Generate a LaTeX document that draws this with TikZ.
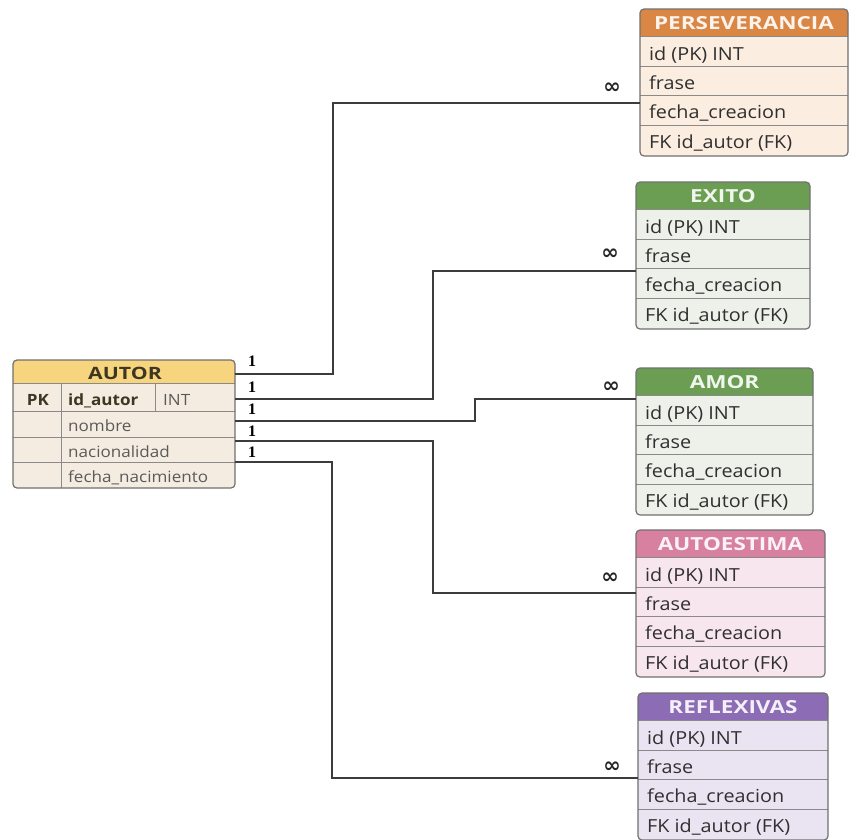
\documentclass[tikz,border=0pt]{standalone}
\usepackage{fontspec}
\usetikzlibrary{calc}
\setmainfont{Open Sans}[FakeStretch=1.1]
\newfontfamily\hdrfont{Open Sans}[FakeStretch=1.25]
\newfontfamily\cardfont{Liberation Serif}
\newfontfamily\symfont{DejaVu Sans}

% palette
\definecolor{bordergray}{HTML}{707070}
\definecolor{rowgray}{HTML}{8A8A8A}
\definecolor{rowink}{HTML}{303030}
\definecolor{softink}{HTML}{5A5A5A}
\definecolor{linkgray}{HTML}{3C3C3C}
\definecolor{autorhdr}{HTML}{F7D47E}
\definecolor{autorbody}{HTML}{F4ECE0}
\definecolor{autorink}{HTML}{3D3622}
\definecolor{orangehdr}{HTML}{DA8745}
\definecolor{orangebody}{HTML}{FBEDE0}
\definecolor{greenhdr}{HTML}{6B9E52}
\definecolor{greenbody}{HTML}{EEF0EA}
\definecolor{pinkhdr}{HTML}{D8809F}
\definecolor{pinkbody}{HTML}{F8E6EE}
\definecolor{purplehdr}{HTML}{8C6CB5}
\definecolor{purplebody}{HTML}{EAE3F2}

\tikzset{
  tblborder/.style={draw=bordergray, line width=1.2pt, rounded corners=4pt,
    inner sep=0pt, outer sep=0pt, anchor=north west},
  rowline/.style={draw=rowgray, line width=0.9pt},
  rowtext/.style={anchor=base west, inner sep=0pt, text=rowink,
    font=\fontsize{18}{20}\selectfont},
  hdrtext/.style={anchor=base, inner sep=0pt, font=\hdrfont\bfseries\fontsize{18}{20}\selectfont},
  autortext/.style={anchor=base west, inner sep=0pt, text=softink,
    font=\fontsize{15.5}{17}\selectfont},
  link/.style={draw=linkgray, line width=1.5pt},
  one/.style={inner sep=0pt, font=\cardfont\bfseries\fontsize{16}{17}\selectfont},
  many/.style={inner sep=0pt, text=black!85, font=\symfont\bfseries\fontsize{21}{22}\selectfont},
}

% entity table: name, left x, top y, width, header colour, body colour, title
\newcommand\ertable[7]{%
  \fill[#6, rounded corners=4pt] (#2,#3) rectangle ({#2+#4},{#3+147});
  \fill[#5, rounded corners=4pt] (#2,#3) rectangle ({#2+#4},{#3+27});
  \fill[#5] (#2,{#3+12}) rectangle ({#2+#4},{#3+27});
  \foreach \ry in {27,57,86.5,116}
    \draw[rowline] (#2,{#3+\ry}) -- ({#2+#4},{#3+\ry});
  \node[tblborder, minimum width=#4pt, minimum height=147pt] (#1) at (#2,#3) {};
  \node[hdrtext, text=white!90!#5] (#1-title) at ({#2+#4/2},{#3+20}) {#7};
  \node[rowtext] (#1-id) at ({#2+9},{#3+51}) {id (PK) INT};
  \node[rowtext] (#1-frase) at ({#2+9},{#3+80}) {frase};
  \node[rowtext] (#1-fecha) at ({#2+9},{#3+109.5}) {fecha\_creacion};
  \node[rowtext] (#1-fk) at ({#2+9},{#3+139}) {FK id\_autor (FK)};
}

\begin{document}
\begin{tikzpicture}[x=1pt, y=-1pt]
  \useasboundingbox (0,0) rectangle (851,839);

  % AUTOR
  \fill[autorbody, rounded corners=4pt] (13,360) rectangle (235,488);
  \fill[autorhdr, rounded corners=4pt] (13,360) rectangle (235,383);
  \fill[autorhdr] (13,372) rectangle (235,383);
  \foreach \ry in {383,411,437,462}
    \draw[rowline] (13,\ry) -- (235,\ry);
  \draw[rowline] (61,383) -- (61,488);
  \draw[rowline] (155,383) -- (155,411);
  \node[tblborder, minimum width=222pt, minimum height=128pt] (autor) at (13,360) {};
  \node[hdrtext, text=autorink, font=\hdrfont\bfseries\fontsize{17}{19}\selectfont] (autor-title) at (125,379) {AUTOR};
  \node[autortext, anchor=base, text=autorink, font=\bfseries\fontsize{15.5}{17}\selectfont] (autor-pk) at (38,405) {PK};
  \node[autortext, text=autorink, font=\bfseries\fontsize{15.5}{17}\selectfont] (autor-id) at (68,405) {id\_autor};
  \node[autortext] (autor-int) at (163,405) {INT};
  \node[autortext] (autor-nombre) at (68,431) {nombre};
  \node[autortext] (autor-nac) at (68,457) {nacionalidad};
  \node[autortext] (autor-fnac) at (68,482) {fecha\_nacimiento};

  % dependent tables
  \ertable{pers}{640}{9}{208}{orangehdr}{orangebody}{PERSEVERANCIA}
  \ertable{exito}{636}{182}{174}{greenhdr}{greenbody}{EXITO}
  \ertable{amor}{636}{368}{177}{greenhdr}{greenbody}{AMOR}
  \ertable{autoest}{636}{530}{189}{pinkhdr}{pinkbody}{AUTOESTIMA}
  \ertable{refl}{638}{693}{190}{purplehdr}{purplebody}{REFLEXIVAS}

  % one-to-many links
  \draw[link] ($(autor.north east)+(0,14)$) -| (333,103) -- ($(pers.north west)+(0,94)$);
  \draw[link] ($(autor.north east)+(0,39)$) -| (433,271) -- ($(exito.north west)+(0,89)$);
  \draw[link] ($(autor.north east)+(0,61)$) -| (475,399) -- ($(amor.north west)+(0,31)$);
  \draw[link] ($(autor.north east)+(0,81)$) -| (433,593) -- ($(autoest.north west)+(0,63)$);
  \draw[link] ($(autor.north east)+(0,102)$) -| (332,778) -- ($(refl.north west)+(0,85)$);

  % cardinalities
  \node[one] (c1) at (252,361) {1};
  \node[one] (c2) at (252,387) {1};
  \node[one] (c3) at (252,409) {1};
  \node[one] (c4) at (252,431) {1};
  \node[one] (c5) at (252,452) {1};
  \node[many] (m1) at (612,88) {∞};
  \node[many] (m2) at (610,254) {∞};
  \node[many] (m3) at (611,387) {∞};
  \node[many] (m4) at (610,578) {∞};
  \node[many] (m5) at (612,767) {∞};
\end{tikzpicture}
\end{document}
